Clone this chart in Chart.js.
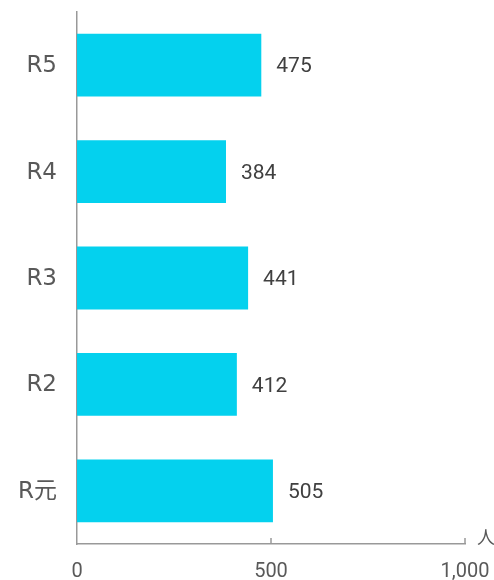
<!DOCTYPE html>
<html>
<head>
<meta charset="utf-8">
<script src="https://cdn.jsdelivr.net/npm/chart.js"></script>
<style>
  html, body { margin: 0; padding: 0; background: #fff; }
  #wrap { width: 494px; height: 580px; }
</style>
</head>
<body>
<div id="wrap"><canvas id="chart" width="494" height="580"></canvas></div>
<script>
// data
const categories = ['R5', 'R4', 'R3', 'R2', 'R元'];
const people = [475, 384, 441, 412, 505];
const xTicks = [0, 500, 1000];
const unitLabel = '人';

const CAT_FONT = '"DejaVu Sans", "Noto Sans CJK JP", sans-serif';
const NUM_FONT = 'Roboto, "Noto Sans CJK JP", sans-serif';

// value labels, upward tick marks and unit
const extras = {
  id: 'extras',
  afterDatasetsDraw(chart) {
    const ctx = chart.ctx;
    const meta = chart.getDatasetMeta(0);
    ctx.save();
    ctx.font = '21px ' + NUM_FONT;
    ctx.fillStyle = '#404040';
    ctx.textBaseline = 'middle';
    ctx.textAlign = 'left';
    meta.data.forEach((bar, i) => {
      ctx.fillText(people[i], bar.x + 15, bar.y + 2);
    });

    const x = chart.scales.x;
    const yb = chart.chartArea.bottom;
    ctx.strokeStyle = '#999';
    ctx.lineWidth = 1.5;
    xTicks.slice(1).forEach(v => {
      const px = x.getPixelForValue(v);
      ctx.beginPath();
      ctx.moveTo(px, yb);
      ctx.lineTo(px, yb - 6);
      ctx.stroke();
    });

    ctx.font = '18px "Noto Sans CJK JP", sans-serif';
    ctx.fillStyle = '#595959';
    ctx.textAlign = 'left';
    ctx.fillText(unitLabel, x.right + 12, yb - 7);
    ctx.restore();
  }
};

new Chart(document.getElementById('chart'), {
  type: 'bar',
  data: {
    labels: categories,
    datasets: [{
      data: people,
      backgroundColor: '#04D1EE',
      barPercentage: 1,
      categoryPercentage: 0.59
    }]
  },
  options: {
    indexAxis: 'y',
    responsive: false,
    animation: false,
    layout: { padding: { top: 12, right: 29, left: 0, bottom: 0 } },
    plugins: { legend: { display: false }, tooltip: { enabled: false } },
    scales: {
      x: {
        min: 0,
        max: 1000,
        afterBuildTicks(scale) { scale.ticks = xTicks.map(v => ({ value: v })); },
        afterFit(scale) {
          scale.height = 36;
          scale.paddingLeft = 0;
          scale.paddingRight = 0;
        },
        grid: { display: false, drawTicks: false },
        border: { display: true, color: '#999', width: 1.5 },
        ticks: {
          padding: 16,
          maxRotation: 0,
          color: '#595959',
          font: { family: NUM_FONT, size: 20 },
          callback: v => v.toLocaleString('en-US')
        }
      },
      y: {
        afterFit(scale) {
          scale.width = 77;
          scale.paddingTop = 0;
          scale.paddingBottom = 0;
        },
        grid: { display: false, drawTicks: false },
        border: { display: true, color: '#999', width: 1.5 },
        ticks: {
          padding: 20,
          labelOffset: 1,
          color: '#595959',
          font: { family: CAT_FONT, size: 23 }
        }
      }
    }
  },
  plugins: [extras]
});
</script>
</body>
</html>
